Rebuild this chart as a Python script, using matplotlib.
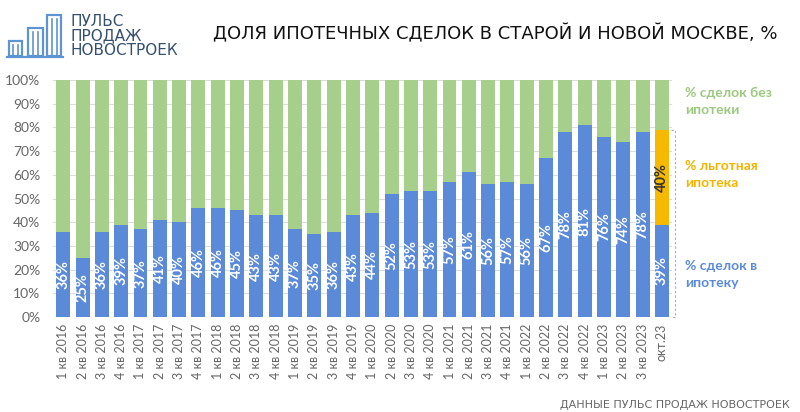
import matplotlib.pyplot as plt
from matplotlib.patches import Rectangle
import numpy as np

# categories (quarters) and shares, %
quarters = ["1 кв 2016", "2 кв 2016", "3 кв 2016", "4 кв 2016",
            "1 кв 2017", "2 кв 2017", "3 кв 2017", "4 кв 2017",
            "1 кв 2018", "2 кв 2018", "3 кв 2018", "4 кв 2018",
            "1 кв 2019", "2 кв 2019", "3 кв 2019", "4 кв 2019",
            "1 кв 2020", "2 кв 2020", "3 кв 2020", "4 кв 2020",
            "1 кв 2021", "2 кв 2021", "3 кв 2021", "4 кв 2021",
            "1 кв 2022", "2 кв 2022", "3 кв 2022", "4 кв 2022",
            "1 кв 2023", "2 кв 2023", "3 кв 2023", "окт.23"]
mortgage = [36, 25, 36, 39, 37, 41, 40, 46, 46, 45, 43, 43, 37, 35, 36, 43,
            44, 52, 53, 53, 57, 61, 56, 57, 56, 67, 78, 81, 76, 74, 78, 39]
preferential = [0] * 31 + [40]
no_mortgage = [100 - m - p for m, p in zip(mortgage, preferential)]

BLUE = "#5b8bd8"
GREEN = "#a5cf8b"
ORANGE = "#f7b900"
GREY = "#666666"

plt.rcParams['font.family'] = ['Lato', 'DejaVu Sans']

fig = plt.figure(figsize=(8, 4.12), dpi=100)

# decoration layer in pixel coords
deco = fig.add_axes([0, 0, 1, 1], zorder=0)
deco.set_xlim(0, 800)
deco.set_ylim(412, 0)
deco.axis('off')
deco.patch.set_alpha(0)

logo_c = "#5f94d2"
for (x0, y0, x1) in [(9, 41, 22), (28, 28, 43), (47, 15, 61)]:
    deco.add_patch(Rectangle((x0, y0), x1 - x0, 56 - y0, fill=False,
                             ec=logo_c, lw=1.6))
    xm = (x0 + x1) / 2
    deco.plot([xm - 2.5, xm - 2.5], [y0 + 4, 56], color=logo_c, lw=1.2)
    deco.plot([xm + 2.5, xm + 2.5], [y0 + 4, 56], color=logo_c, lw=1.2)
deco.plot([7, 63], [56.5, 56.5], color=logo_c, lw=1.6)
deco.text(70, 36, "ПУЛЬС\nПРОДАЖ\nНОВОСТРОЕК", color="#34506e", fontsize=11,
          va='center', ha='left', linespacing=0.92, family='DejaVu Sans')

deco.text(495, 34, "ДОЛЯ ИПОТЕЧНЫХ СДЕЛОК В СТАРОЙ И НОВОЙ МОСКВЕ, %",
          fontsize=13, ha='center', va='center', color='#111111',
          family='DejaVu Sans')
deco.text(790, 405, "ДАННЫЕ ПУЛЬС ПРОДАЖ НОВОСТРОЕК", fontsize=8,
          ha='right', va='center', color='#666666', family='DejaVu Sans')

# main chart
ax = fig.add_axes([53 / 800, 1 - 317 / 412, (672 - 53) / 800, (317 - 80) / 412],
                  zorder=1)
ax.patch.set_alpha(0)
x = np.arange(len(quarters))
w = 0.72
ax.bar(x, mortgage, w, color=BLUE, zorder=2)
ax.bar(x, preferential, w, bottom=mortgage, color=ORANGE, zorder=2)
ax.bar(x, no_mortgage, w, bottom=np.array(mortgage) + np.array(preferential),
       color=GREEN, zorder=2)

for i, m in enumerate(mortgage):
    ax.text(i, m / 2, f"{m}%", rotation=90, ha='center', va='center',
            color='white', fontsize=10.5, fontweight='bold', zorder=3)
for i, p in enumerate(preferential):
    if p:
        ax.text(i, mortgage[i] + p / 2, f"{p}%", rotation=90, ha='center',
                va='center', color='#333333', fontsize=10.5, fontweight='bold',
                zorder=3)

ax.set_xlim(-0.53, 31.52)
ax.set_ylim(0, 100)
ax.set_yticks(range(0, 101, 10))
ax.set_yticklabels([f"{v}%" for v in range(0, 101, 10)], color=GREY, fontsize=10)
ax.set_xticks(x)
ax.set_xticklabels(quarters, rotation=90, color=GREY, fontsize=9)
ax.tick_params(length=0)
ax.tick_params(axis='y', pad=9)
ax.tick_params(axis='x', pad=5)
ax.grid(axis='y', color='#dddddd', lw=0.8, zorder=0)
for s in ax.spines.values():
    s.set_visible(False)

# bracket for October bar
ax.plot([31.45, 31.65, 31.65, 31.45], [79, 79, 0, 0], color='#aaaaaa',
        lw=0.8, ls=(0, (2, 2)), clip_on=False)

# side labels
ax.text(32.2, 91, "% сделок без\nипотеки", color="#9cc97f", fontsize=10,
        fontweight='bold', va='center', ha='left', linespacing=1.5)
ax.text(32.2, 60, "% льготная\nипотека", color="#f2b400", fontsize=10,
        fontweight='bold', va='center', ha='left', linespacing=1.5)
ax.text(32.2, 18, "% сделок в\nипотеку", color=BLUE, fontsize=10,
        fontweight='bold', va='center', ha='left', linespacing=1.5)

fig.savefig("out.png", dpi=100)
